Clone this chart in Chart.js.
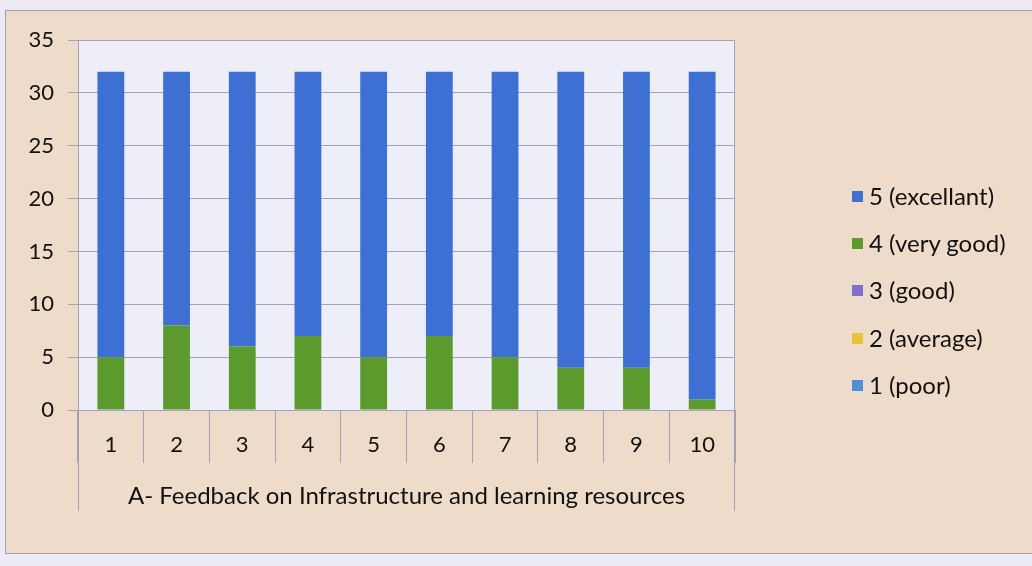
<!DOCTYPE html>
<html>
<head>
<meta charset="utf-8">
<script src="https://cdn.jsdelivr.net/npm/chart.js@4"></script>
<style>
  html, body { margin: 0; padding: 0; }
  body { width: 1032px; height: 566px; background: #ECEAF4; position: relative; overflow: hidden; font-family: Lato, "Open Sans", sans-serif; }
  #panel { position: absolute; left: 5px; top: 10px; width: 1040px; height: 542px; background: #EEDBC9; border: 1px solid #A49CB0; }
  #wrap { position: absolute; left: 0; top: 0; width: 1032px; height: 566px; }
  #legend { position: absolute; left: 852px; top: 181px; }
  .li { height: 47.2px; display: flex; align-items: flex-start; font-size: 24px; color: #111; line-height: 30px; }
  .sw { width: 11px; height: 11px; margin-right: 6px; margin-top: 10px; }
</style>
</head>
<body>
<div id="panel"></div>
<div id="wrap"><canvas id="c" width="1032" height="566"></canvas></div>
<div id="legend"></div>
<script>
const categories = ["1","2","3","4","5","6","7","8","9","10"];
const seriesNames = ["1 (poor)", "2 (average)", "3 (good)", "4 (very good)", "5 (excellant)"];
const poor      = [0, 0, 0, 0, 0, 0, 0, 0, 0, 0];
const average   = [0, 0, 0, 0, 0, 0, 0, 0, 0, 0];
const good      = [0, 0, 0, 0, 0, 0, 0, 0, 0, 0];
const veryGood  = [5, 8, 6, 7, 5, 7, 5, 4, 4, 1];
const excellent = [27, 24, 26, 25, 27, 25, 27, 28, 28, 31];
const yTicks = [0, 5, 10, 15, 20, 25, 30, 35];
const axisTitle = "A- Feedback on Infrastructure and learning resources";

const colors = ["#4A8FD8", "#E8C23A", "#7E70CC", "#5C9A2D", "#3D70D2"];
const seriesData = [poor, average, good, veryGood, excellent];

const gridColor = "#A69FBE";
const fontSpec = { family: 'Lato', size: 22 };
const titleFont = { family: 'Lato', size: 24 };

const plotBg = {
  id: 'plotBg',
  beforeDraw(chart) {
    const {ctx, chartArea: a} = chart;
    ctx.save();
    ctx.fillStyle = '#EEEEF8';
    ctx.fillRect(a.left, a.top, a.right - a.left, a.bottom - a.top);
    ctx.restore();
  },
  afterDraw(chart) {
    const {ctx, chartArea: a} = chart;
    ctx.save();
    ctx.strokeStyle = gridColor;
    ctx.lineWidth = 1;
    ctx.beginPath();
    ctx.moveTo(a.left, a.top + 0.5); ctx.lineTo(a.right, a.top + 0.5);
    ctx.moveTo(a.right - 0.5, a.top); ctx.lineTo(a.right - 0.5, a.bottom);
    ctx.moveTo(a.left + 0.5, a.bottom); ctx.lineTo(a.left + 0.5, a.bottom + 101);
    ctx.moveTo(a.right - 0.5, a.bottom); ctx.lineTo(a.right - 0.5, a.bottom + 101);
    ctx.stroke();
    ctx.restore();
  }
};

new Chart(document.getElementById('c'), {
  type: 'bar',
  data: {
    labels: categories,
    datasets: seriesNames.map((n, i) => ({
      label: n,
      data: seriesData[i],
      backgroundColor: colors[i],
      borderWidth: 0,
      categoryPercentage: 0.8,
      barPercentage: 0.51
    }))
  },
  options: {
    responsive: false,
    animation: false,
    layout: { padding: { left: 0, right: 297, top: 40, bottom: 0 } },
    plugins: { legend: { display: false }, tooltip: { enabled: false } },
    scales: {
      x: {
        stacked: true,
        offset: true,
        afterFit(s) { s.height = 156; },
        grid: { drawOnChartArea: false, drawTicks: true, tickLength: 53, color: gridColor, offset: true },
        border: { display: true, color: gridColor },
        ticks: { padding: -31, font: fontSpec, color: '#111', maxRotation: 0 },
        title: { display: true, text: axisTitle, font: titleFont, color: '#111', padding: { top: 0, bottom: 55 } }
      },
      y: {
        stacked: true,
        min: 0,
        max: 35,
        afterFit(s) { s.width = 78; },
        afterBuildTicks(s) { s.ticks = yTicks.map(v => ({ value: v })); },
        grid: { color: gridColor, tickLength: 10, drawTicks: true },
        border: { display: true, color: gridColor },
        ticks: { padding: 14, font: fontSpec, color: '#111' }
      }
    }
  },
  plugins: [plotBg]
});

const leg = document.getElementById('legend');
for (let i = seriesNames.length - 1; i >= 0; i--) {
  const d = document.createElement('div');
  d.className = 'li';
  const sw = document.createElement('div');
  sw.className = 'sw';
  sw.style.background = colors[i];
  const t = document.createElement('span');
  t.textContent = seriesNames[i];
  d.appendChild(sw); d.appendChild(t);
  leg.appendChild(d);
}
</script>
</body>
</html>
